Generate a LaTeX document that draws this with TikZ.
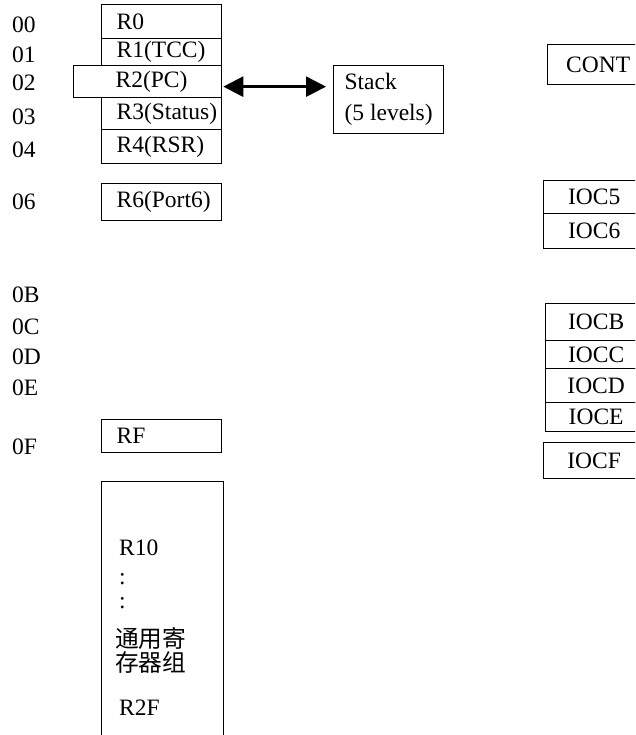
\documentclass[tikz,border=0pt]{standalone}
\usepackage{fontspec}
\setmainfont{Liberation Serif}
\newfontfamily\cjk{Noto Sans CJK SC}
\usetikzlibrary{arrows.meta}

\tikzset{
  txt/.style={font=\fontsize{23.5}{28}\selectfont, inner sep=0pt},
  regbox/.style={txt, draw, line width=1.3pt, anchor=north west,
    text width=120pt, minimum width=120pt, align=left,
    execute at begin node={\hspace*{#1}}},
  regbox/.default=15pt,
  iocbox/.style={txt, draw, line width=1.3pt, anchor=north west,
    minimum width=101pt},
  addr/.style={txt, anchor=west}
}

\begin{document}
\begin{tikzpicture}[x=1pt,y=-1pt]

\path[use as bounding box] (0,0) rectangle (635,735);
\clip (0,0) rectangle (635,735);

% Adresses
\node[addr] (a00) at (12,25) {00};
\node[addr] (a01) at (12,55) {01};
\node[addr] (a02) at (12,83) {02};
\node[addr] (a03) at (12,117) {03};
\node[addr] (a04) at (12,150) {04};
\node[addr] (a06) at (12,202) {06};
\node[addr] (a0B) at (12,295) {0B};
\node[addr] (a0C) at (12,327) {0C};
\node[addr] (a0D) at (12,357) {0D};
\node[addr] (a0E) at (12,388) {0E};
\node[addr] (a0F) at (12,447) {0F};

% Registres
\node[regbox,minimum height=34pt]
(r0)
at (101,4)
{R0};

\node[regbox,minimum height=27pt]
(r1)
at (101,38)
{R1(TCC)};

\node[regbox,minimum height=32pt]
(r3)
at (101,97)
{R3(Status)};

\node[regbox,minimum height=34pt]
(r4)
at (101,129)
{R4(RSR)};

\node[regbox=42pt,text width=148pt,minimum width=148pt,minimum height=32pt,fill=white]
(r2)
at (73,65)
{R2(PC)};

\node[regbox,minimum height=37pt]
(r6)
at (101,183)
{R6(Port6)};

\node[regbox,minimum height=33pt]
(rf)
at (101,419)
{RF};

% Registres generaux
\node[regbox,text width=122pt,minimum width=122pt,minimum height=275pt]
(gpr)
at (101,481)
{};

\node[addr] (r10) at (119,548) {R10};
\node[addr,align=left,font=\fontsize{23.5}{24}\selectfont] (dots) at (119,591) {:\\:};
\node[addr,align=left,font=\cjk\fontsize{23.7}{24}\selectfont] (gprtext) at (115,650) {通用寄\\存器组};
\node[addr] (r2f) at (119,708) {R2F};

% Pile
\node[txt,draw,line width=1.3pt,anchor=north west,align=left,
  minimum width=110pt,minimum height=68pt,
  font=\fontsize{23.5}{31}\selectfont]
(stack)
at (333,65)
{Stack\\(5 levels)};

\draw[{Triangle[length=20pt,width=20pt]}-{Triangle[length=20pt,width=20pt]},
  line width=2.6pt,shorten <=1pt,shorten >=7pt]
([yshift=-5pt]r2.east) -- ([yshift=-5pt]r2.east -| stack.west);

% Registres de controle
\node[iocbox,minimum height=40pt] (cont) at (547,44) {CONT};

\node[iocbox,minimum height=33pt] (ioc5) at (543,180) {IOC5};
\node[iocbox,minimum height=35pt] (ioc6) at (543,213) {IOC6};

\node[iocbox,minimum height=37pt] (iocb) at (545,303) {IOCB};
\node[iocbox,minimum height=28pt] (iocc) at (545,340) {IOCC};
\node[iocbox,minimum height=34pt] (iocd) at (545,368) {IOCD};
\node[iocbox,minimum height=29pt] (ioce) at (545,402) {IOCE};

\node[iocbox,minimum height=36pt] (iocf) at (543,442) {IOCF};

\end{tikzpicture}
\end{document}
